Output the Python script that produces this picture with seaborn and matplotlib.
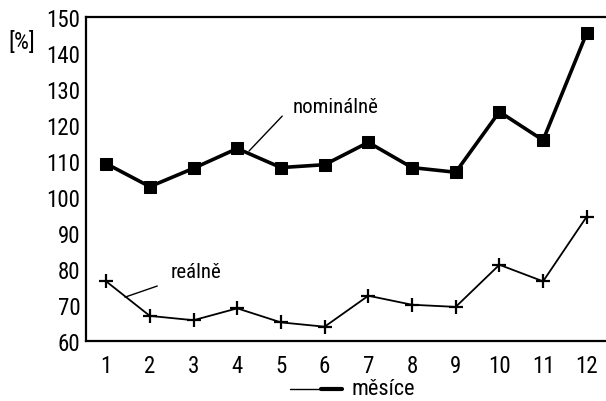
import seaborn as sns
import numpy as np
import pandas as pd
import matplotlib.pyplot as plt
from matplotlib import font_manager

mesice = list(range(1, 13))
nominalne = [109.3, 102.9, 108.0, 113.5, 108.2, 109.0, 115.2, 108.2, 106.9, 123.7, 115.8, 145.6]
realne = [76.6, 67.0, 65.8, 69.1, 65.2, 64.0, 72.6, 70.1, 69.5, 81.2, 76.6, 94.6]
y_ticks = [60, 70, 80, 90, 100, 110, 120, 130, 140, 150]

sns.set_style('white')

# uzsi pismo, pokud je k dispozici
rodina = 'DejaVu Sans'
stretch = 'normal'
for f in ['Liberation Sans Narrow', 'Roboto Condensed', 'DejaVu Sans Condensed']:
    try:
        font_manager.findfont(f, fallback_to_default=False)
        rodina = f
        break
    except Exception:
        pass
if rodina == 'DejaVu Sans':
    stretch = 'condensed'
plt.rcParams['font.family'] = [rodina, 'DejaVu Sans']
plt.rcParams['font.stretch'] = stretch
for k in ['text.color', 'xtick.color', 'ytick.color', 'xtick.labelcolor', 'ytick.labelcolor']:
    plt.rcParams[k] = 'black'

df = pd.DataFrame({'mesic': mesice, 'nominalne': nominalne, 'realne': realne})

fig = plt.figure(figsize=(6.06, 4.02), dpi=100)
ax = fig.add_axes([0.142, 0.149, 0.858, 0.806])

sns.lineplot(data=df, x='mesic', y='nominalne', ax=ax, color='black', linewidth=2.6,
             marker='s', markersize=8, markeredgecolor='black')
sns.lineplot(data=df, x='mesic', y='realne', ax=ax, color='black', linewidth=1.3,
             marker='+', markersize=10, markeredgewidth=1.6, markeredgecolor='black')

ax.set_xlim(0.54, 12.44)
ax.set_ylim(60, 150)
ax.set_xticks(mesice)
ax.set_yticks(y_ticks)
ax.tick_params(direction='in', length=6, width=1.2, labelsize=16.5, color='black')
ax.tick_params(axis='x', pad=9)
ax.tick_params(axis='y', pad=4)
for s in ['left', 'top', 'bottom']:
    ax.spines[s].set_color('black')
    ax.spines[s].set_linewidth(1.6)
ax.spines['right'].set_visible(False)
ax.set_xlabel('')
ax.set_ylabel('')

# popisky krivek
ax.text(6.24, 125.3, 'nominálně', fontsize=15, ha='center', va='center')
ax.plot([4.27, 5.03], [112.8, 122.5], color='black', lw=1)
ax.text(3.06, 79.4, 'reálně', fontsize=15, ha='center', va='center')
ax.plot([1.43, 2.17], [72.2, 75.3], color='black', lw=1)

fig.text(0.013, 0.895, '[%]', fontsize=17, ha='left', va='center')
fig.text(0.58, 0.03, 'měsíce', fontsize=16, ha='left', va='center')
fig.add_artist(plt.Line2D([0.478, 0.565], [0.03, 0.03], color='black', lw=1))
fig.add_artist(plt.Line2D([0.53, 0.565], [0.03, 0.03], color='black', lw=3))

plt.savefig('out.png', dpi=100)
